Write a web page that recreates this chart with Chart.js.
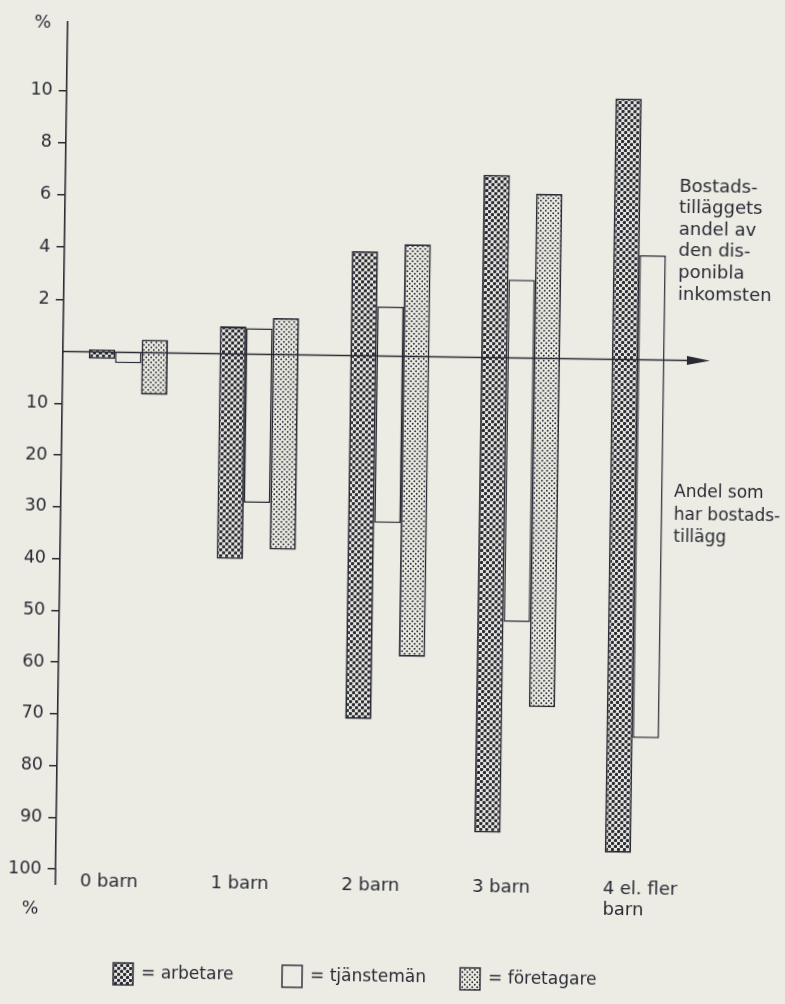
<!DOCTYPE html>
<html>
<head>
<meta charset="utf-8">
<script src="https://cdn.jsdelivr.net/npm/chart.js@4.4.1/dist/chart.umd.min.js"></script>
<style>
  html, body { margin: 0; padding: 0; background: #ecece4; overflow: hidden; }
  /* the printed page is scanned slightly askew */
  #wrap { width: 785px; height: 1004px; transform: rotate(0.82deg); transform-origin: 63px 351.5px; }
</style>
</head>
<body>
<div id="wrap"><canvas id="chart" width="785" height="1004"></canvas></div>
<script>
/**
 * Data
 */
const categories = ['0 barn', '1 barn', '2 barn', '3 barn', ['4 el. fler', 'barn']];
const seriesNames = ['arbetare', 'tjänstemän', 'företagare'];
const upperTicks = [2, 4, 6, 8, 10];
const lowerTicks = [10, 20, 30, 40, 50, 60, 70, 80, 90, 100];

// Bostadstilläggets andel av den disponibla inkomsten, %
const arbetareAndel = [0.1, 1.05, 4.0, 7.0, 10.0];
const tjanstemanAndel = [0, 1.0, 1.9, 3.0, 4.0];
const foretagareAndel = [0.5, 1.4, 4.3, 6.3, null];

// Andel som har bostadstillägg, %
const arbetareAndelMed = [1.3, 39.6, 70.2, 91.8, 95.3];
const tjanstemanAndelMed = [2.1, 28.7, 32.2, 51.0, 73.1];
const foretagareAndelMed = [8.1, 37.7, 58.0, 67.4, null];

const upperCaption = ['Bostads-', 'tilläggets', 'andel av', 'den dis-', 'ponibla', 'inkomsten'];
const lowerCaption = ['Andel som', 'har bostads-', 'tillägg'];


/**
 * Styles
 */
const paper = '#ecece4';
const ink = '#2a2a35';
const font = '"DejaVu Sans", sans-serif';
const canvas = document.getElementById('chart');
const ctx = canvas.getContext('2d');

function dotPattern(tile, radius) {
    const c = document.createElement('canvas');
    c.width = tile;
    c.height = tile;
    const g = c.getContext('2d');
    g.fillStyle = paper;
    g.fillRect(0, 0, tile, tile);
    g.fillStyle = ink;
    for (const p of [tile / 4, tile * 3 / 4]) {
        g.beginPath();
        g.arc(p, p, radius, 0, Math.PI * 2);
        g.fill();
    }
    return ctx.createPattern(c, 'repeat');
}

const fills = [dotPattern(6, 1.7), paper, dotPattern(5, 0.95)];
const borders = [1.8, 1.5, 1.8];
const stacks = ['a', 't', 'f'];


/**
 * Chart
 */
function bars(i, values, axis) {
    return {
        label: seriesNames[i],
        data: values,
        yAxisID: axis,
        stack: stacks[i],
        backgroundColor: fills[i],
        borderColor: ink,
        borderWidth: borders[i],
        borderSkipped: 'start',
        barPercentage: 1.0,
        categoryPercentage: 0.605
    };
}

const extras = {
    id: 'extras',
    afterDatasetsDraw(chart) {
        const c = chart.ctx;
        const area = chart.chartArea;
        const y0 = chart.scales.yTop.getPixelForValue(0);
        c.save();
        c.strokeStyle = ink;
        c.lineWidth = 1.7;
        c.beginPath();
        c.moveTo(area.left, y0);
        c.lineTo(692, y0);
        c.stroke();
        c.fillStyle = ink;
        c.beginPath();
        c.moveTo(710, y0);
        c.lineTo(687, y0 - 4.5);
        c.lineTo(687, y0 + 4.5);
        c.closePath();
        c.fill();
        // axis runs a little past 100
        c.lineWidth = 1.6;
        c.beginPath();
        c.moveTo(area.left, area.bottom);
        c.lineTo(area.left, 885);
        c.stroke();
        c.restore();
    },
    afterDraw(chart) {
        const c = chart.ctx;
        c.save();
        c.fillStyle = ink;
        c.textBaseline = 'middle';

        c.font = '17.5px ' + font;
        c.textAlign = 'center';
        c.fillText('%', 38, 23);
        c.fillText('%', 38, 909);

        c.textAlign = 'left';
        c.font = '18px ' + font;
        upperCaption.forEach((line, i) => c.fillText(line, 677, 178 + i * 21.6));
        c.font = '17px ' + font;
        lowerCaption.forEach((line, i) => c.fillText(line, 676, 484 + i * 22.5));

        // legend
        const legendX = [122, 291, 469];
        seriesNames.forEach((name, i) => {
            const x = legendX[i], y = 962;
            c.fillStyle = fills[i];
            c.fillRect(x, y, 20, 22);
            c.strokeStyle = ink;
            c.lineWidth = 1.4;
            c.strokeRect(x, y, 20, 22);
            c.fillStyle = ink;
            c.fillText('= ' + name, x + 28, y + 11);
        });
        c.restore();
    }
};

const axisStyle = {
    border: { display: true, color: ink, width: 1.6 },
    grid: { drawOnChartArea: false, drawTicks: true, tickLength: 8, color: ink, lineWidth: 1.5 },
    ticks: { color: ink, padding: 6, autoSkip: false, font: { family: font, size: 17.5 } },
    afterFit: (scale) => { scale.width = 63; }
};

new Chart(ctx, {
    type: 'bar',
    data: {
        labels: categories,
        datasets: [
            bars(0, arbetareAndel, 'yTop'),
            bars(1, tjanstemanAndel, 'yTop'),
            bars(2, foretagareAndel, 'yTop'),
            bars(0, arbetareAndelMed, 'yBot'),
            bars(1, tjanstemanAndelMed, 'yBot'),
            bars(2, foretagareAndelMed, 'yBot')
        ]
    },
    options: {
        responsive: false,
        animation: false,
        layout: { padding: { left: 0, top: 22, right: 68.25, bottom: 85 } },
        plugins: {
            legend: { display: false },
            tooltip: { enabled: false }
        },
        scales: {
            x: {
                type: 'category',
                offset: true,
                grid: { display: false },
                border: { display: false },
                ticks: {
                    color: ink,
                    align: 'start',
                    labelOffset: -41,
                    padding: -6,
                    maxRotation: 0,
                    autoSkip: false,
                    font: { family: font, size: 18, lineHeight: 1.15 }
                },
                afterFit: (scale) => { scale.height = 50; }
            },
            yTop: {
                ...axisStyle,
                type: 'linear',
                position: 'left',
                stack: 'v',
                stackWeight: 329.5,
                weight: 1,
                min: 0,
                max: 12.62,
                afterBuildTicks: (scale) => { scale.ticks = upperTicks.map(v => ({ value: v })); }
            },
            yBot: {
                ...axisStyle,
                type: 'linear',
                position: 'left',
                stack: 'v',
                stackWeight: 517.5,
                weight: 0,
                reverse: true,
                min: 0,
                max: 100,
                afterBuildTicks: (scale) => { scale.ticks = lowerTicks.map(v => ({ value: v })); }
            }
        }
    },
    plugins: [extras]
});
</script>
</body>
</html>
